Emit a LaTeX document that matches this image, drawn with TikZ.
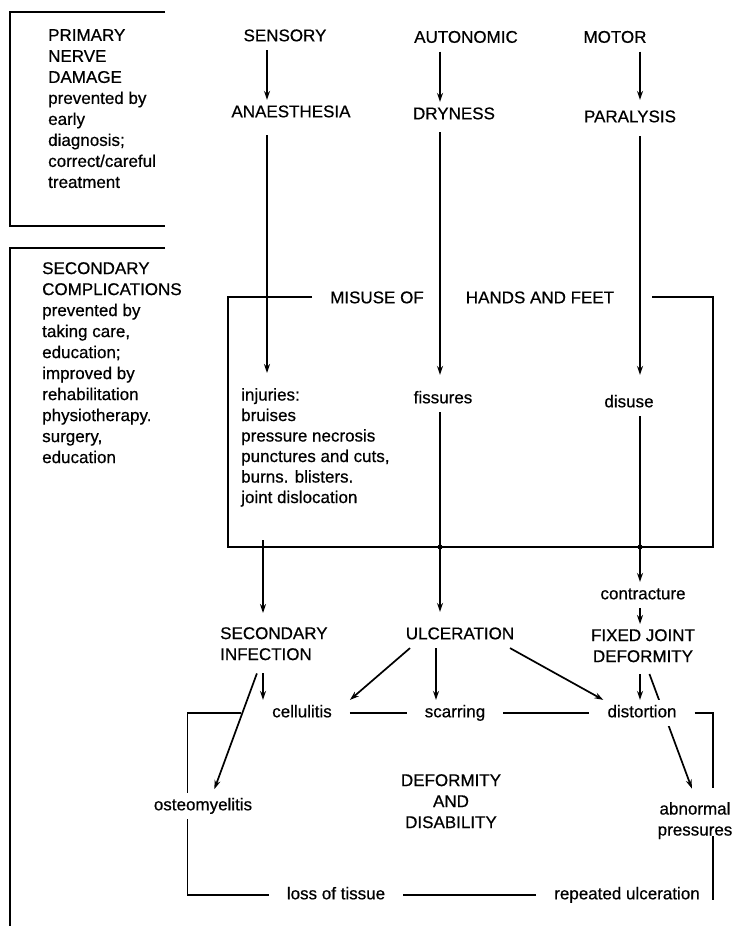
\documentclass[tikz,border=0pt]{standalone}
\usepackage{fontspec}
\setmainfont{Liberation Sans}[FakeBold=0.6]
\usepackage{tikz}
\usetikzlibrary{arrows.meta}

\newcommand{\diagfont}{\fontsize{17}{21}\selectfont}
\newcommand{\listfont}{\fontsize{17}{20.5}\selectfont}

\begin{document}
\begin{tikzpicture}[
    x=1pt, y=-1pt,
    txt/.style={font=\diagfont, inner sep=5pt, text height=12.2pt, text depth=3.6pt},
    ring/.style={txt, inner xsep=18pt},
    multi/.style={font=\diagfont, inner sep=5pt},
    arrow/.style={line width=1.7pt,-{Stealth[length=9pt,width=6pt]}},
    link/.style={line width=1.7pt}
]
    \useasboundingbox (0,0) rectangle (739,932);

    % Columns and box corners
    \coordinate (colA) at (267,0);
    \coordinate (colAlow) at (263,0);
    \coordinate (colB) at (440,0);
    \coordinate (colC) at (640,0);
    \coordinate (boxTL) at (228,297);
    \coordinate (boxTR) at (713,297);
    \coordinate (boxBL) at (228,547);
    \coordinate (boxBR) at (713,547);
    \coordinate (tickA) at (263,540);
    \coordinate (ringL) at (187.5,0);
    \coordinate (ringR) at (713,0);
    \coordinate (ringTop) at (241,713);

    % Side notes
    \draw[link] (165,12) -- (10,12) -- (10,226) -- (165,226);
    \draw[link] (165,248) -- (10,248) -- (10,926);
    \node[multi, align=left, anchor=north west] (primary) at (43,24) {PRIMARY\\NERVE\\DAMAGE\\prevented by\\early\\diagnosis;\\correct/careful\\treatment};
    \node[multi, align=left, anchor=north west] (secondary) at (37,257) {SECONDARY\\COMPLICATIONS\\prevented by\\taking care,\\education;\\improved by\\rehabilitation\\physiotherapy.\\surgery,\\education};

    % Nerve damage
    \node[txt] (sensory) at (285,37) {SENSORY};
    \node[txt] (autonomic) at (466,38.5) {AUTONOMIC};
    \node[txt] (motor) at (615,38.5) {MOTOR};
    \node[txt] (anaesthesia) at (291,113) {ANAESTHESIA};
    \node[txt] (dryness) at (454,115) {DRYNESS};
    \node[txt] (paralysis) at (630,118) {PARALYSIS};

    % Misuse box
    \node[ring] (misuse) at (377,299) {MISUSE OF};
    \node[ring] (hands) at (540,299) {HANDS AND FEET};
    \node[multi, align=left, anchor=north west, font=\listfont] (injuries) at (236,383) {injuries:\\bruises\\pressure necrosis\\punctures and cuts,\\burns. blisters.\\joint dislocation};
    \node[txt] (fissures) at (443,399) {fissures};
    \node[txt] (disuse) at (629,403) {disuse};

    % Complications
    \node[multi, align=left, anchor=north west] (infection) at (215,622) {SECONDARY\\INFECTION};
    \node[txt] (ulceration) at (460,635) {ULCERATION};
    \node[txt] (contracture) at (643,595) {contracture};
    \node[multi, align=center, anchor=north] (fixed) at (643,624) {FIXED JOINT\\DEFORMITY};
    \node[ring] (cellulitis) at (302,713) {cellulitis};
    \node[ring] (scarring) at (455,713) {scarring};
    \node[txt] (osteo) at (203,806) {osteomyelitis};
    \node[multi, align=center, anchor=north] (deformity) at (451,769) {DEFORMITY\\AND\\DISABILITY};
    \node[multi, align=center, anchor=north] (abnormal) at (695,797) {abnormal\\pressures};
    \node[ring] (loss) at (336,895) {loss of tissue};
    \node[ring] (repeated) at (627,895) {repeated ulceration};

    % runs behind distortion
    \draw[arrow, shorten <=7pt, shorten >=9pt] ([xshift=4pt]fixed.south) -- (abnormal.north);
    \node[ring, fill=white] (distortion) at (642,713) {distortion};

    % Arrows - nerve damage
    \draw[arrow] (sensory.south -| colA) -- (anaesthesia.north -| colA);
    \draw[arrow] (autonomic.south -| colB) -- (dryness.north -| colB);
    \draw[arrow, shorten >=5pt] (motor.south -| colC) -- (paralysis.north -| colC);
    \draw[arrow, shorten <=9pt, shorten >=10pt] (anaesthesia.south -| colA) -- (injuries.north -| colA);
    \draw[arrow, shorten <=4pt, shorten >=11pt] (dryness.south -| colB) -- (fissures.north -| colB);
    \draw[arrow, shorten <=5pt, shorten >=15pt] (paralysis.south -| colC) -- (disuse.north -| colC);

    % Box
    \draw[link, shorten >=20pt] (misuse.west |- boxTL) -- (boxTL) -- (boxBL) -- (boxBR) -- (boxTR) -- (hands.east |- boxTR);
    \fill (colB |- boxBL) circle (2.5pt);
    \fill (colC |- boxBL) circle (2.5pt);

    % Arrows - complications
    \draw[arrow, shorten >=9pt] (tickA) -- (infection.north -| colAlow);
    \draw[arrow, shorten >=10pt] (fissures.south -| colB) -- (ulceration.north -| colB);
    \draw[arrow] (disuse.south -| colC) -- (contracture.north -| colC);
    \draw[arrow] (contracture.south -| colC) -- (fixed.north -| colC);
    \draw[arrow, shorten <=7pt] (fixed.south -| colC) -- (distortion.north -| colC);
    \draw[arrow] ([xshift=-50pt]ulceration.south) -- (cellulitis.north east);
    \draw[arrow] ([xshift=-24pt]ulceration.south) -- ([xshift=-19pt]scarring.north);
    \draw[arrow] ([xshift=50pt]ulceration.south) -- ([xshift=14pt]distortion.north west);
    \draw[arrow, shorten <=8pt] (infection.south -| colAlow) -- (cellulitis.north -| colAlow);
    \draw[arrow, shorten >=4pt] ([xshift=-17pt,yshift=-8pt]infection.south) -- ([xshift=10pt]osteo.north);

    % Deformity ring
    \draw[link] (cellulitis) -- (scarring);
    \draw[link] (scarring) -- (distortion);
    \draw[link, shorten >=9pt] (distortion.east) -| (abnormal.north -| ringR);
    \draw[link, shorten <=-8pt, shorten >=8pt] (abnormal.south -| ringR) -- (repeated.south -| ringR);
    \draw[link] (repeated) -- (loss);
    \draw[link] (loss.west) -| (osteo.south -| ringL);
    \draw[link] (osteo.north -| ringL) |- (ringTop);

\end{tikzpicture}
\end{document}
